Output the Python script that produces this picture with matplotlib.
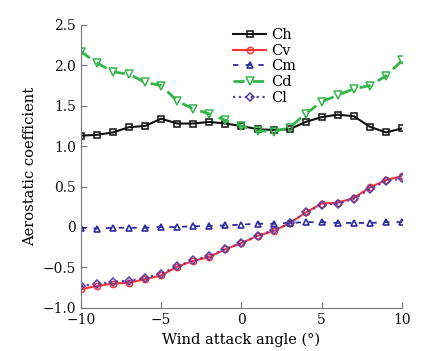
import matplotlib as mpl
mpl.use('Agg')
import matplotlib.pyplot as plt

# wind attack angle (deg)
angle = list(range(-10, 11))

ch = [1.13, 1.14, 1.17, 1.235, 1.25, 1.34, 1.28, 1.28, 1.30, 1.28, 1.25,
      1.21, 1.20, 1.21, 1.30, 1.36, 1.39, 1.37, 1.24, 1.17, 1.22]
cv = [-0.77, -0.73, -0.70, -0.69, -0.645, -0.60, -0.49, -0.42, -0.37, -0.275, -0.20,
      -0.11, -0.05, 0.045, 0.18, 0.29, 0.30, 0.36, 0.49, 0.58, 0.63]
cm = [-0.01, -0.02, -0.01, -0.01, -0.01, 0.0, 0.0, 0.01, 0.01, 0.02, 0.03,
      0.04, 0.04, 0.05, 0.06, 0.06, 0.05, 0.05, 0.05, 0.06, 0.06]
cd = [2.17, 2.03, 1.92, 1.89, 1.79, 1.75, 1.56, 1.46, 1.40, 1.32, 1.25,
      1.19, 1.18, 1.23, 1.40, 1.55, 1.63, 1.71, 1.75, 1.87, 2.06]
cl = [-0.73, -0.705, -0.68, -0.665, -0.63, -0.58, -0.485, -0.41, -0.36, -0.27, -0.20,
      -0.11, -0.04, 0.045, 0.18, 0.275, 0.29, 0.35, 0.47, 0.57, 0.60]

plt.rcParams['font.family'] = ['DejaVu Serif']

fig = plt.figure(figsize=(4.3, 3.51), dpi=100)
ax = fig.add_axes([0.188, 0.123, 0.747, 0.806])

ax.plot(angle, ch, '-s', color='#111111', lw=1.5, ms=4.5, mfc='none', mew=1.1, label='Ch')
ax.plot(angle, cv, '-o', color='#ff3333', lw=1.5, ms=4.5, mfc='none', mew=1.1, label='Cv')
ax.plot(angle, cm, '--^', color='#2e2e9c', lw=1.3, ms=5, mfc='none', mew=1.2,
        dashes=(3, 4), label='Cm')
ax.plot(angle, cd, '--v', color='#33b54a', lw=2, ms=5.5, mfc='none', mew=1.1,
        dashes=(4, 3), label='Cd')
ax.plot(angle, cl, ':D', color='#5a3fa6', lw=1.6, ms=4, mfc='none', mew=1.1, label='Cl')

ax.set_xlim(-10, 10)
ax.set_ylim(-1.0, 2.5)
ax.set_xticks([-10, -5, 0, 5, 10])
ax.set_yticks([-1.0, -0.5, 0, 0.5, 1.0, 1.5, 2.0, 2.5])
ax.set_yticklabels(['\u22121.0', '\u22120.5', '0', '0.5', '1.0', '1.5', '2.0', '2.5'])
ax.set_xticklabels(['\u221210', '\u22125', '0', '5', '10'])

for side in ['top', 'right']:
    ax.spines[side].set_visible(False)
for side in ['left', 'bottom']:
    ax.spines[side].set_color('#777777')
ax.tick_params(direction='in', colors='#777777', labelcolor='#111111', labelsize=10, length=4)

ax.set_xlabel('Wind attack angle (\u00b0)', fontsize=10.5)
ax.set_ylabel('Aerostatic coefficient', fontsize=10.5)

ax.legend(loc='upper left', frameon=False, fontsize=10.5, handlelength=2.3,
          handletextpad=0.35, labelspacing=0.12, borderaxespad=0.0,
          bbox_to_anchor=(0.455, 1.01))

plt.savefig('out.png', dpi=100)
plt.close('all')
